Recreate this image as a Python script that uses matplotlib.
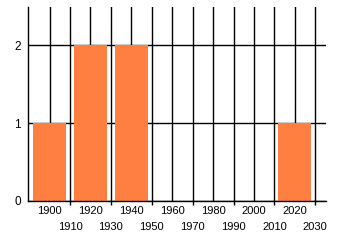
import numpy as np
import matplotlib.pyplot as plt

plt.rcParams['font.family'] = ['Liberation Sans', 'DejaVu Sans']

# data
years = [1900, 1920, 1940, 2020]
counts = [1, 2, 2, 1]
even_ticks = [1900, 1920, 1940, 1960, 1980, 2000, 2020]
odd_ticks = [1910, 1930, 1950, 1970, 1990, 2010, 2030]
y_ticks = [0, 1, 2]

fig = plt.figure(figsize=(3.4, 2.45), dpi=100)
ax = fig.add_axes([0.082, 0.180, 0.876, 0.793])

ax.bar(years, counts, width=16, color='#ff7f41', zorder=3)

ax.set_xlim(1889.4, 2035.1)
ax.set_ylim(0, 2.5)

# even decades: labels in first row
ax.set_xticks(even_ticks)
ax.set_xticklabels([str(t) for t in even_ticks])
ax.tick_params(axis='x', which='major', length=0, pad=4, labelsize=8)
# odd decades: labels in second row, small tick marks
ax.set_xticks(odd_ticks, minor=True)
ax.set_xticklabels([str(t) for t in odd_ticks], minor=True)
ax.tick_params(axis='x', which='minor', length=3, width=1, pad=12, labelsize=8)

ax.set_yticks(y_ticks)
ax.tick_params(axis='y', length=0, pad=5, labelsize=8.5)

ax.grid(True, which='both', axis='x', color='black', linewidth=1, zorder=1)
ax.grid(True, which='major', axis='y', color='black', linewidth=1, zorder=1)
ax.set_axisbelow(True)

for s in ['top', 'right']:
    ax.spines[s].set_visible(False)
for s in ['left', 'bottom']:
    ax.spines[s].set_linewidth(1)
    ax.spines[s].set_zorder(4)

plt.savefig('out.png', dpi=100)
